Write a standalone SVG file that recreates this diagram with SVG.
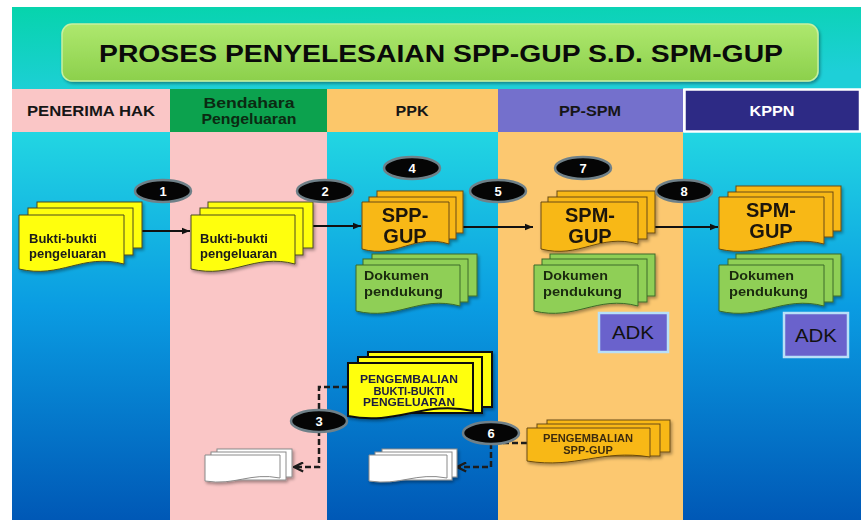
<svg xmlns="http://www.w3.org/2000/svg" width="861" height="520" viewBox="0 0 861 520">
<defs>
<style>
text{font-family:"Liberation Sans",Arial,sans-serif;}
.b{font-weight:bold;}
.hd{font-size:14px;font-weight:bold;text-anchor:middle;}
.dk{fill:#161616;}
.dg{fill:#0b2a12;}
.wt{fill:#ffffff;}
.dt{font-size:13px;font-weight:bold;fill:#1a1a1a;}
.big{font-size:20px;font-weight:bold;fill:#1a1208;text-anchor:middle;}
.gt{font-size:13px;font-weight:bold;fill:#1a2a10;}
.sm{font-size:11px;font-weight:bold;text-anchor:middle;}
.bt{font-size:13px;font-weight:bold;fill:#fff;text-anchor:middle;}
.badge{fill:#050505;stroke:#6f8088;stroke-width:2.5;}
.yel{fill:#ffff10;stroke:#4a4a20;stroke-width:1;}
.yel2{fill:#ffff10;stroke:#111;stroke-width:2;}
.org{fill:#f8b816;stroke:#6a4a10;stroke-width:1;}
.grn{fill:#8fcf57;stroke:#3c6a28;stroke-width:1;}
.wht{fill:#fff;stroke:#8a8a8a;stroke-width:1;}
.adk{fill:#6a62cc;stroke:#b8e0f8;stroke-width:2.5;}
.sol{stroke:#111;stroke-width:2;fill:none;marker-end:url(#ah);}
.dash{stroke:#1c1c1c;stroke-width:2.5;fill:none;stroke-dasharray:6 3;marker-end:url(#oh);}
</style>
<linearGradient id="blue" x1="0" y1="132" x2="0" y2="520" gradientUnits="userSpaceOnUse">
<stop offset="0" stop-color="#22d6e2"/>
<stop offset="0.45" stop-color="#0a9ce2"/>
<stop offset="1" stop-color="#0058b6"/>
</linearGradient>
<linearGradient id="teal" x1="0" y1="0" x2="0.3" y2="1">
<stop offset="0" stop-color="#06d4ac"/>
<stop offset="1" stop-color="#1ecfd8"/>
</linearGradient>
<linearGradient id="tg" x1="0" y1="0" x2="0" y2="1">
<stop offset="0" stop-color="#aee86e"/>
<stop offset="1" stop-color="#8cd04c"/>
</linearGradient>
<filter id="sh" x="-10%" y="-10%" width="130%" height="140%">
<feDropShadow dx="1.5" dy="2" stdDeviation="1.5" flood-color="#000" flood-opacity="0.35"/>
</filter>
<marker id="ah" viewBox="0 0 10 10" refX="10" refY="5" markerWidth="9" markerHeight="8" orient="auto" markerUnits="userSpaceOnUse">
<path d="M0,1 L10,5 L0,9 Z" fill="#111"/>
</marker>
<marker id="oh" viewBox="0 0 12 12" refX="11" refY="6" markerWidth="11" markerHeight="11" orient="auto" markerUnits="userSpaceOnUse">
<path d="M1,1 L11,6 L1,11" fill="none" stroke="#1c1c1c" stroke-width="2.5"/>
</marker>
</defs>

<rect x="0" y="0" width="861" height="520" fill="#fff"/>
<rect x="12" y="7" width="849" height="82" fill="url(#teal)"/>

<g id="title">
<rect x="62" y="24" width="756" height="57" rx="10" fill="url(#tg)" stroke="#c8f0a0" stroke-width="1.5" filter="url(#sh)"/>
<text x="441" y="62" font-size="24" class="b" fill="#0a0a0a" text-anchor="middle" textLength="684" lengthAdjust="spacingAndGlyphs">PROSES  PENYELESAIAN  SPP-GUP S.D. SPM-GUP</text>
</g>

<g id="lanes">
<rect x="12" y="132" width="158" height="388" fill="url(#blue)"/>
<rect x="170" y="132" width="157" height="388" fill="#fac6c6"/>
<rect x="327" y="132" width="171" height="388" fill="url(#blue)"/>
<rect x="498" y="132" width="185" height="388" fill="#fcc870"/>
<rect x="683" y="132" width="178" height="388" fill="url(#blue)"/>
</g>

<g id="headers">
<g id="h-penerima"><rect x="12" y="89" width="158" height="43" fill="#fac6c6"/><text class="hd dk" x="91" y="116" textLength="128" lengthAdjust="spacingAndGlyphs">PENERIMA HAK</text></g>
<g id="h-bendahara"><rect x="170" y="89" width="157" height="43" fill="#0ca24e"/><text class="hd dg" x="249" y="108" textLength="91" lengthAdjust="spacingAndGlyphs">Bendahara</text><text class="hd dg" x="249" y="124" textLength="95" lengthAdjust="spacingAndGlyphs">Pengeluaran</text></g>
<g id="h-ppk"><rect x="327" y="89" width="171" height="43" fill="#fcc76a"/><text class="hd dk" x="412" y="116" textLength="33" lengthAdjust="spacingAndGlyphs">PPK</text></g>
<g id="h-ppspm"><rect x="498" y="89" width="185" height="43" fill="#7470cc"/><text class="hd dk" x="590" y="116" textLength="62" lengthAdjust="spacingAndGlyphs">PP-SPM</text></g>
<g id="h-kppn"><rect x="684.5" y="89.5" width="175.5" height="42" fill="#2d2a85" stroke="#fff" stroke-width="2.5"/><text class="hd wt" x="772" y="116" textLength="45" lengthAdjust="spacingAndGlyphs">KPPN</text></g>
</g>

<g id="connectors">
<line class="sol" x1="142" y1="231" x2="190" y2="231"/>
<line class="sol" x1="313" y1="226" x2="361" y2="226"/>
<line class="sol" x1="463" y1="227" x2="533" y2="227"/>
<line class="sol" x1="655" y1="227" x2="718" y2="227"/>
<path class="dash" d="M348,387 H319 V467 H294"/>
<path class="dash" d="M527,443 H491 V467 H457"/>
</g>

<g id="bukti-penerima" filter="url(#sh)">
<rect class="yel" x="37" y="202" width="105" height="46"/>
<rect class="yel" x="28" y="208" width="105" height="47"/>
<path class="yel" d="M19,215 H124 V264 C82,253 61,279 19,269 Z"/>
<text class="dt" x="29" y="243">Bukti-bukti</text>
<text class="dt" x="29" y="258">pengeluaran</text>
</g>

<g id="bukti-bendahara" filter="url(#sh)">
<rect class="yel" x="208" y="202" width="105" height="46"/>
<rect class="yel" x="200" y="208" width="103" height="47"/>
<path class="yel" d="M191,215 H295 V264 C253.4,253 232.6,279 191,269 Z"/>
<text class="dt" x="200" y="243">Bukti-bukti</text>
<text class="dt" x="200" y="258">pengeluaran</text>
</g>

<g id="spp-gup-ppk" filter="url(#sh)">
<rect class="org" x="377" y="191" width="86" height="42"/>
<rect class="org" x="369" y="197" width="87" height="42"/>
<path class="org" d="M362,202 H449 V244 C414.2,233 396.8,259 362,249 Z"/>
<text class="big" x="405" y="222">SPP-</text>
<text class="big" x="405" y="243">GUP</text>
</g>

<g id="dok-ppk" filter="url(#sh)">
<rect class="grn" x="372" y="254" width="105" height="42"/>
<rect class="grn" x="363" y="259" width="105" height="43"/>
<path class="grn" d="M356,265 H460 V306 C418.4,295 397.6,321 356,311 Z"/>
<text class="gt" x="364" y="280" textLength="65" lengthAdjust="spacingAndGlyphs">Dokumen</text>
<text class="gt" x="364" y="296" textLength="79" lengthAdjust="spacingAndGlyphs">pendukung</text>
</g>

<g id="spm-gup-ppspm" filter="url(#sh)">
<rect class="org" x="557" y="191" width="98" height="42"/>
<rect class="org" x="548" y="197" width="99" height="42"/>
<path class="org" d="M541,202 H638 V244 C599.2,233 579.8,259 541,249 Z"/>
<text class="big" x="590" y="222">SPM-</text>
<text class="big" x="590" y="243">GUP</text>
</g>

<g id="dok-ppspm" filter="url(#sh)">
<rect class="grn" x="550" y="254" width="105" height="42"/>
<rect class="grn" x="542" y="259" width="105" height="43"/>
<path class="grn" d="M534,265 H638 V306 C596.4,295 575.6,321 534,311 Z"/>
<text class="gt" x="543" y="280" textLength="65" lengthAdjust="spacingAndGlyphs">Dokumen</text>
<text class="gt" x="543" y="296" textLength="79" lengthAdjust="spacingAndGlyphs">pendukung</text>
</g>

<g id="adk-ppspm">
<rect class="adk" x="599" y="313" width="69" height="39"/>
<text x="633" y="339" font-size="18" fill="#111" text-anchor="middle" textLength="42" lengthAdjust="spacingAndGlyphs">ADK</text>
</g>

<g id="spm-gup-kppn" filter="url(#sh)">
<rect class="org" x="736" y="186" width="105" height="45"/>
<rect class="org" x="728" y="192" width="105" height="45"/>
<path class="org" d="M719,197 H824 V244 C782,233 761,259 719,249 Z"/>
<text class="big" x="771" y="217">SPM-</text>
<text class="big" x="771" y="238">GUP</text>
</g>

<g id="dok-kppn" filter="url(#sh)">
<rect class="grn" x="736" y="254" width="105" height="42"/>
<rect class="grn" x="728" y="259" width="105" height="43"/>
<path class="grn" d="M719,265 H824 V306 C782,295 761,321 719,311 Z"/>
<text class="gt" x="729" y="280" textLength="65" lengthAdjust="spacingAndGlyphs">Dokumen</text>
<text class="gt" x="729" y="296" textLength="79" lengthAdjust="spacingAndGlyphs">pendukung</text>
</g>

<g id="adk-kppn">
<rect class="adk" x="784" y="313" width="64" height="44"/>
<text x="816" y="342" font-size="18" fill="#111" text-anchor="middle" textLength="42" lengthAdjust="spacingAndGlyphs">ADK</text>
</g>

<g id="pengembalian-bukti" filter="url(#sh)">
<rect class="yel2" x="368" y="352" width="124" height="55"/>
<rect class="yel2" x="358" y="357" width="124" height="56"/>
<path class="yel2" d="M348,363 H473 V411 C423,400 398,426 348,416 Z"/>
<text class="sm" x="409" y="383" fill="#1a1a40" textLength="98" lengthAdjust="spacingAndGlyphs">PENGEMBALIAN</text>
<text class="sm" x="409" y="395" fill="#1a1a40">BUKTI-BUKTI</text>
<text class="sm" x="409" y="406" fill="#1a1a40" textLength="92" lengthAdjust="spacingAndGlyphs">PENGELUARAN</text>
</g>

<g id="kembali-bendahara" filter="url(#sh)">
<rect class="wht" x="217" y="449" width="75" height="28"/>
<rect class="wht" x="211" y="452" width="75" height="28"/>
<path class="wht" d="M205,455 H280 V478 C250,472 235,486 205,481 Z"/>
</g>

<g id="kembali-ppk" filter="url(#sh)">
<rect class="wht" x="382" y="449" width="75" height="28"/>
<rect class="wht" x="375" y="452" width="77" height="28"/>
<path class="wht" d="M369,455 H447 V478 C416,472 400,486 369,481 Z"/>
</g>

<g id="pengembalian-spp" filter="url(#sh)">
<rect class="org" x="547" y="420" width="123" height="32"/>
<rect class="org" x="537" y="424" width="123" height="32"/>
<path class="org" d="M527,428 H650 V457 C601,449 576,469 527,461 Z"/>
<text class="sm" x="588" y="442" fill="#3c2c10" textLength="90" lengthAdjust="spacingAndGlyphs">PENGEMBALIAN</text>
<text class="sm" x="588" y="454" fill="#3c2c10">SPP-GUP</text>
</g>

<g id="badges">
<g id="b1"><ellipse class="badge" cx="163" cy="191" rx="28" ry="11"/><text class="bt" x="163" y="195.5">1</text></g>
<g id="b2"><ellipse class="badge" cx="325" cy="191" rx="28" ry="11"/><text class="bt" x="325" y="195.5">2</text></g>
<g id="b3"><ellipse class="badge" cx="319" cy="421" rx="28" ry="11"/><text class="bt" x="319" y="425.5">3</text></g>
<g id="b4"><ellipse class="badge" cx="412" cy="168" rx="28" ry="11"/><text class="bt" x="412" y="172.5">4</text></g>
<g id="b5"><ellipse class="badge" cx="498" cy="191" rx="28" ry="11"/><text class="bt" x="498" y="195.5">5</text></g>
<g id="b6"><ellipse class="badge" cx="491" cy="433" rx="28" ry="11"/><text class="bt" x="491" y="437.5">6</text></g>
<g id="b7"><ellipse class="badge" cx="583" cy="168" rx="28" ry="11"/><text class="bt" x="583" y="172.5">7</text></g>
<g id="b8"><ellipse class="badge" cx="684" cy="191" rx="28" ry="11"/><text class="bt" x="684" y="195.5">8</text></g>
</g>
</svg>
